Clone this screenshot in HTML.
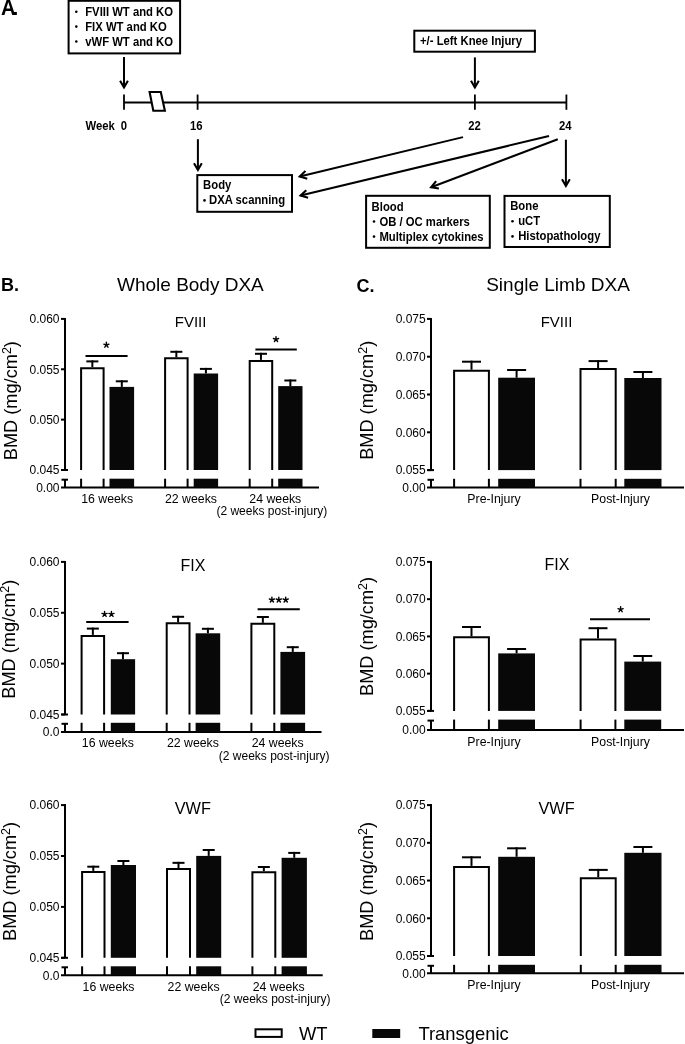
<!DOCTYPE html>
<html><head><meta charset="utf-8"><style>
html,body{margin:0;padding:0;background:#fff;}
svg{display:block;will-change:transform;}
text{font-family:"Liberation Sans", sans-serif;fill:#000;}
</style></head><body>
<svg width="685" height="1044" viewBox="0 0 685 1044">
<rect width="685" height="1044" fill="#fff"/>
<text x="0.9" y="14.7" font-size="22" font-weight="bold" textLength="14.6" lengthAdjust="spacingAndGlyphs">A</text>
<text x="12.40" y="14.70" font-size="21" text-anchor="start" font-weight="bold" >.</text>
<rect x="68.60" y="0.80" width="111.50" height="52.60" fill="#fff" stroke="#000" stroke-width="2"/>
<circle cx="76.30" cy="11.75" r="1.3" fill="#000"/>
<text x="85.20" y="15.75" font-size="12.2" font-weight="bold" text-anchor="start" textLength="87.88" lengthAdjust="spacingAndGlyphs">FVIII WT and KO</text>
<circle cx="76.30" cy="26.60" r="1.3" fill="#000"/>
<text x="85.20" y="30.60" font-size="12.2" font-weight="bold" text-anchor="start" textLength="81.61" lengthAdjust="spacingAndGlyphs">FIX WT and KO</text>
<circle cx="76.30" cy="41.50" r="1.3" fill="#000"/>
<text x="85.20" y="45.50" font-size="12.2" font-weight="bold" text-anchor="start" textLength="87.88" lengthAdjust="spacingAndGlyphs">vWF WT and KO</text>
<line x1="124.00" y1="57.00" x2="124.00" y2="87.50" stroke="#000" stroke-width="2" stroke-linecap="butt"/>
<polyline points="120.10,80.70 124.00,87.50 127.90,80.70" fill="none" stroke="#000" stroke-width="2.1"/>
<line x1="124.00" y1="102.60" x2="566.40" y2="102.60" stroke="#000" stroke-width="2" stroke-linecap="butt"/>
<line x1="124.00" y1="94.50" x2="124.00" y2="109.80" stroke="#000" stroke-width="1.8" stroke-linecap="butt"/>
<line x1="197.60" y1="94.50" x2="197.60" y2="109.80" stroke="#000" stroke-width="1.8" stroke-linecap="butt"/>
<line x1="474.90" y1="94.50" x2="474.90" y2="109.80" stroke="#000" stroke-width="1.8" stroke-linecap="butt"/>
<line x1="566.40" y1="94.50" x2="566.40" y2="109.80" stroke="#000" stroke-width="1.8" stroke-linecap="butt"/>
<polygon points="149.6,92 160.8,92 164.9,110.8 153.3,110.8" fill="#fff" stroke="#000" stroke-width="2.1"/>
<text x="85.60" y="129.70" font-size="12.2" font-weight="bold" text-anchor="start" textLength="29.32" lengthAdjust="spacingAndGlyphs">Week</text>
<text x="123.80" y="129.70" font-size="12.2" font-weight="bold" text-anchor="middle" textLength="6.28" lengthAdjust="spacingAndGlyphs">0</text>
<text x="196.30" y="129.70" font-size="12.2" font-weight="bold" text-anchor="middle" textLength="12.57" lengthAdjust="spacingAndGlyphs">16</text>
<text x="474.50" y="129.70" font-size="12.2" font-weight="bold" text-anchor="middle" textLength="12.57" lengthAdjust="spacingAndGlyphs">22</text>
<text x="565.30" y="129.70" font-size="12.2" font-weight="bold" text-anchor="middle" textLength="12.57" lengthAdjust="spacingAndGlyphs">24</text>
<rect x="414.30" y="30.70" width="120.60" height="21.00" fill="#fff" stroke="#000" stroke-width="2"/>
<text x="420.00" y="44.60" font-size="12.2" font-weight="bold" text-anchor="start" textLength="102.03" lengthAdjust="spacingAndGlyphs">+/- Left Knee Injury</text>
<line x1="474.90" y1="57.40" x2="474.90" y2="87.50" stroke="#000" stroke-width="2" stroke-linecap="butt"/>
<polyline points="471.00,80.70 474.90,87.50 478.80,80.70" fill="none" stroke="#000" stroke-width="2.1"/>
<line x1="197.90" y1="139.20" x2="197.90" y2="170.00" stroke="#000" stroke-width="2" stroke-linecap="butt"/>
<polyline points="194.00,163.20 197.90,170.00 201.80,163.20" fill="none" stroke="#000" stroke-width="2.1"/>
<rect x="197.30" y="175.10" width="94.70" height="36.70" fill="#fff" stroke="#000" stroke-width="2"/>
<text x="203.10" y="189.10" font-size="12.2" font-weight="bold" text-anchor="start" textLength="28.25" lengthAdjust="spacingAndGlyphs">Body</text>
<circle cx="204.50" cy="200.40" r="1.3" fill="#000"/>
<text x="209.00" y="204.40" font-size="12.2" font-weight="bold" text-anchor="start" textLength="76.18" lengthAdjust="spacingAndGlyphs">DXA scanning</text>
<line x1="463.00" y1="137.10" x2="299.77" y2="176.47" stroke="#000" stroke-width="2" stroke-linecap="butt"/>
<polyline points="305.47,171.08 299.77,176.47 307.30,178.66" fill="none" stroke="#000" stroke-width="2.1"/>
<line x1="549.00" y1="136.00" x2="300.57" y2="195.57" stroke="#000" stroke-width="2" stroke-linecap="butt"/>
<polyline points="306.28,190.19 300.57,195.57 308.09,197.77" fill="none" stroke="#000" stroke-width="2.1"/>
<line x1="557.80" y1="139.30" x2="431.14" y2="187.25" stroke="#000" stroke-width="2" stroke-linecap="butt"/>
<polyline points="436.11,181.19 431.14,187.25 438.88,188.49" fill="none" stroke="#000" stroke-width="2.1"/>
<line x1="565.90" y1="139.70" x2="565.90" y2="186.00" stroke="#000" stroke-width="2" stroke-linecap="butt"/>
<polyline points="562.00,179.20 565.90,186.00 569.80,179.20" fill="none" stroke="#000" stroke-width="2.1"/>
<rect x="366.10" y="195.80" width="123.70" height="52.00" fill="#fff" stroke="#000" stroke-width="2"/>
<text x="371.60" y="211.20" font-size="12.2" font-weight="bold" text-anchor="start" textLength="32.01" lengthAdjust="spacingAndGlyphs">Blood</text>
<circle cx="374.00" cy="221.50" r="1.3" fill="#000"/>
<text x="379.40" y="225.50" font-size="12.2" font-weight="bold" text-anchor="start" textLength="90.44" lengthAdjust="spacingAndGlyphs">OB / OC markers</text>
<circle cx="374.00" cy="236.60" r="1.3" fill="#000"/>
<text x="379.40" y="240.60" font-size="12.2" font-weight="bold" text-anchor="start" textLength="104.24" lengthAdjust="spacingAndGlyphs">Multiplex cytokines</text>
<rect x="504.50" y="195.90" width="105.30" height="51.10" fill="#fff" stroke="#000" stroke-width="2"/>
<text x="510.20" y="210.20" font-size="12.2" font-weight="bold" text-anchor="start" textLength="28.25" lengthAdjust="spacingAndGlyphs">Bone</text>
<circle cx="512.50" cy="221.20" r="1.3" fill="#000"/>
<text x="518.20" y="225.20" font-size="12.2" font-weight="bold" text-anchor="start" textLength="21.97" lengthAdjust="spacingAndGlyphs">uCT</text>
<circle cx="512.50" cy="236.40" r="1.3" fill="#000"/>
<text x="518.20" y="240.40" font-size="12.2" font-weight="bold" text-anchor="start" textLength="82.23" lengthAdjust="spacingAndGlyphs">Histopathology</text>
<text x="1.00" y="291.30" font-size="18" text-anchor="start" font-weight="bold" >B.</text>
<text x="117.00" y="291.00" font-size="19" text-anchor="start" font-weight="normal" >Whole Body DXA</text>
<text x="356.50" y="291.50" font-size="18" text-anchor="start" font-weight="bold" >C.</text>
<text x="486.20" y="291.00" font-size="19" text-anchor="start" font-weight="normal" >Single Limb DXA</text>
<line x1="65.00" y1="317.90" x2="65.00" y2="470.00" stroke="#000" stroke-width="2" stroke-linecap="butt"/>
<line x1="61.00" y1="318.90" x2="65.00" y2="318.90" stroke="#000" stroke-width="2" stroke-linecap="butt"/>
<text x="59.50" y="323.20" font-size="12" text-anchor="end" font-weight="normal" >0.060</text>
<line x1="61.00" y1="369.27" x2="65.00" y2="369.27" stroke="#000" stroke-width="2" stroke-linecap="butt"/>
<text x="59.50" y="373.57" font-size="12" text-anchor="end" font-weight="normal" >0.055</text>
<line x1="61.00" y1="419.63" x2="65.00" y2="419.63" stroke="#000" stroke-width="2" stroke-linecap="butt"/>
<text x="59.50" y="423.93" font-size="12" text-anchor="end" font-weight="normal" >0.050</text>
<line x1="61.00" y1="470.00" x2="65.00" y2="470.00" stroke="#000" stroke-width="2" stroke-linecap="butt"/>
<text x="59.50" y="474.30" font-size="12" text-anchor="end" font-weight="normal" >0.045</text>
<line x1="61.50" y1="470.00" x2="68.00" y2="470.00" stroke="#000" stroke-width="2" stroke-linecap="butt"/>
<line x1="61.50" y1="479.70" x2="68.00" y2="479.70" stroke="#000" stroke-width="2" stroke-linecap="butt"/>
<line x1="65.00" y1="479.70" x2="65.00" y2="487.60" stroke="#000" stroke-width="2" stroke-linecap="butt"/>
<line x1="61.00" y1="487.60" x2="319.00" y2="487.60" stroke="#000" stroke-width="2" stroke-linecap="butt"/>
<text x="59.50" y="491.90" font-size="12" text-anchor="end" font-weight="normal" >0.00</text>
<line x1="92.35" y1="360.40" x2="92.35" y2="367.20" stroke="#000" stroke-width="2" stroke-linecap="butt"/>
<line x1="86.35" y1="361.40" x2="98.35" y2="361.40" stroke="#000" stroke-width="2" stroke-linecap="butt"/>
<path d="M81.10,470.00 V368.20 H103.60 V470.00" fill="#fff" stroke="#000" stroke-width="2"/>
<line x1="81.10" y1="478.70" x2="81.10" y2="487.60" stroke="#000" stroke-width="2" stroke-linecap="butt"/>
<line x1="103.60" y1="478.70" x2="103.60" y2="487.60" stroke="#000" stroke-width="2" stroke-linecap="butt"/>
<line x1="121.80" y1="380.30" x2="121.80" y2="386.90" stroke="#000" stroke-width="2" stroke-linecap="butt"/>
<line x1="115.80" y1="381.30" x2="127.80" y2="381.30" stroke="#000" stroke-width="2" stroke-linecap="butt"/>
<rect x="109.50" y="386.90" width="24.60" height="83.10" fill="#080808"/>
<rect x="109.50" y="478.70" width="24.60" height="8.90" fill="#080808"/>
<line x1="176.35" y1="350.80" x2="176.35" y2="357.30" stroke="#000" stroke-width="2" stroke-linecap="butt"/>
<line x1="170.35" y1="351.80" x2="182.35" y2="351.80" stroke="#000" stroke-width="2" stroke-linecap="butt"/>
<path d="M165.10,470.00 V358.30 H187.60 V470.00" fill="#fff" stroke="#000" stroke-width="2"/>
<line x1="165.10" y1="478.70" x2="165.10" y2="487.60" stroke="#000" stroke-width="2" stroke-linecap="butt"/>
<line x1="187.60" y1="478.70" x2="187.60" y2="487.60" stroke="#000" stroke-width="2" stroke-linecap="butt"/>
<line x1="205.90" y1="367.90" x2="205.90" y2="373.50" stroke="#000" stroke-width="2" stroke-linecap="butt"/>
<line x1="199.90" y1="368.90" x2="211.90" y2="368.90" stroke="#000" stroke-width="2" stroke-linecap="butt"/>
<rect x="193.70" y="373.50" width="24.40" height="96.50" fill="#080808"/>
<rect x="193.70" y="478.70" width="24.40" height="8.90" fill="#080808"/>
<line x1="260.95" y1="352.80" x2="260.95" y2="359.90" stroke="#000" stroke-width="2" stroke-linecap="butt"/>
<line x1="254.95" y1="353.80" x2="266.95" y2="353.80" stroke="#000" stroke-width="2" stroke-linecap="butt"/>
<path d="M249.70,470.00 V360.90 H272.20 V470.00" fill="#fff" stroke="#000" stroke-width="2"/>
<line x1="249.70" y1="478.70" x2="249.70" y2="487.60" stroke="#000" stroke-width="2" stroke-linecap="butt"/>
<line x1="272.20" y1="478.70" x2="272.20" y2="487.60" stroke="#000" stroke-width="2" stroke-linecap="butt"/>
<line x1="290.35" y1="379.50" x2="290.35" y2="386.10" stroke="#000" stroke-width="2" stroke-linecap="butt"/>
<line x1="284.35" y1="380.50" x2="296.35" y2="380.50" stroke="#000" stroke-width="2" stroke-linecap="butt"/>
<rect x="278.20" y="386.10" width="24.30" height="83.90" fill="#080808"/>
<rect x="278.20" y="478.70" width="24.30" height="8.90" fill="#080808"/>
<line x1="85.50" y1="356.00" x2="127.60" y2="356.00" stroke="#000" stroke-width="2" stroke-linecap="butt"/>
<path d="M106.40,345.00L106.40,342.30M106.40,345.00L108.97,344.17M106.40,345.00L107.99,347.18M106.40,345.00L104.81,347.18M106.40,345.00L103.83,344.17" stroke="#000" stroke-width="1.4" stroke-linecap="round" fill="none"/>
<line x1="255.40" y1="349.40" x2="296.80" y2="349.40" stroke="#000" stroke-width="2" stroke-linecap="butt"/>
<path d="M276.00,339.30L276.00,336.60M276.00,339.30L278.57,338.47M276.00,339.30L277.59,341.48M276.00,339.30L274.41,341.48M276.00,339.30L273.43,338.47" stroke="#000" stroke-width="1.4" stroke-linecap="round" fill="none"/>
<text x="190.60" y="326.70" font-size="15" text-anchor="middle" font-weight="normal" >FVIII</text>
<text transform="translate(16.90,400.65) rotate(-90)" font-size="18.2" text-anchor="middle">BMD (mg/cm<tspan font-size="12.5" dy="-5.9">2</tspan><tspan dy="5.9">)</tspan></text>
<line x1="65.00" y1="560.90" x2="65.00" y2="714.50" stroke="#000" stroke-width="2" stroke-linecap="butt"/>
<line x1="61.00" y1="561.90" x2="65.00" y2="561.90" stroke="#000" stroke-width="2" stroke-linecap="butt"/>
<text x="59.50" y="566.20" font-size="12" text-anchor="end" font-weight="normal" >0.060</text>
<line x1="61.00" y1="612.77" x2="65.00" y2="612.77" stroke="#000" stroke-width="2" stroke-linecap="butt"/>
<text x="59.50" y="617.07" font-size="12" text-anchor="end" font-weight="normal" >0.055</text>
<line x1="61.00" y1="663.63" x2="65.00" y2="663.63" stroke="#000" stroke-width="2" stroke-linecap="butt"/>
<text x="59.50" y="667.93" font-size="12" text-anchor="end" font-weight="normal" >0.050</text>
<line x1="61.00" y1="714.50" x2="65.00" y2="714.50" stroke="#000" stroke-width="2" stroke-linecap="butt"/>
<text x="59.50" y="718.80" font-size="12" text-anchor="end" font-weight="normal" >0.045</text>
<line x1="61.50" y1="714.50" x2="68.00" y2="714.50" stroke="#000" stroke-width="2" stroke-linecap="butt"/>
<line x1="61.50" y1="723.80" x2="68.00" y2="723.80" stroke="#000" stroke-width="2" stroke-linecap="butt"/>
<line x1="65.00" y1="723.80" x2="65.00" y2="732.00" stroke="#000" stroke-width="2" stroke-linecap="butt"/>
<line x1="61.00" y1="732.00" x2="321.50" y2="732.00" stroke="#000" stroke-width="2" stroke-linecap="butt"/>
<text x="59.50" y="736.30" font-size="12" text-anchor="end" font-weight="normal" >0.0</text>
<line x1="92.85" y1="627.60" x2="92.85" y2="634.90" stroke="#000" stroke-width="2" stroke-linecap="butt"/>
<line x1="86.85" y1="628.60" x2="98.85" y2="628.60" stroke="#000" stroke-width="2" stroke-linecap="butt"/>
<path d="M81.60,714.50 V635.90 H104.10 V714.50" fill="#fff" stroke="#000" stroke-width="2"/>
<line x1="81.60" y1="722.80" x2="81.60" y2="732.00" stroke="#000" stroke-width="2" stroke-linecap="butt"/>
<line x1="104.10" y1="722.80" x2="104.10" y2="732.00" stroke="#000" stroke-width="2" stroke-linecap="butt"/>
<line x1="122.95" y1="652.20" x2="122.95" y2="659.20" stroke="#000" stroke-width="2" stroke-linecap="butt"/>
<line x1="116.95" y1="653.20" x2="128.95" y2="653.20" stroke="#000" stroke-width="2" stroke-linecap="butt"/>
<rect x="110.80" y="659.20" width="24.30" height="55.30" fill="#080808"/>
<rect x="110.80" y="722.80" width="24.30" height="9.20" fill="#080808"/>
<line x1="178.10" y1="615.80" x2="178.10" y2="622.30" stroke="#000" stroke-width="2" stroke-linecap="butt"/>
<line x1="172.10" y1="616.80" x2="184.10" y2="616.80" stroke="#000" stroke-width="2" stroke-linecap="butt"/>
<path d="M166.70,714.50 V623.30 H189.50 V714.50" fill="#fff" stroke="#000" stroke-width="2"/>
<line x1="166.70" y1="722.80" x2="166.70" y2="732.00" stroke="#000" stroke-width="2" stroke-linecap="butt"/>
<line x1="189.50" y1="722.80" x2="189.50" y2="732.00" stroke="#000" stroke-width="2" stroke-linecap="butt"/>
<line x1="207.90" y1="627.80" x2="207.90" y2="633.30" stroke="#000" stroke-width="2" stroke-linecap="butt"/>
<line x1="201.90" y1="628.80" x2="213.90" y2="628.80" stroke="#000" stroke-width="2" stroke-linecap="butt"/>
<rect x="195.60" y="633.30" width="24.60" height="81.20" fill="#080808"/>
<rect x="195.60" y="722.80" width="24.60" height="9.20" fill="#080808"/>
<line x1="262.85" y1="616.00" x2="262.85" y2="622.80" stroke="#000" stroke-width="2" stroke-linecap="butt"/>
<line x1="256.85" y1="617.00" x2="268.85" y2="617.00" stroke="#000" stroke-width="2" stroke-linecap="butt"/>
<path d="M251.40,714.50 V623.80 H274.30 V714.50" fill="#fff" stroke="#000" stroke-width="2"/>
<line x1="251.40" y1="722.80" x2="251.40" y2="732.00" stroke="#000" stroke-width="2" stroke-linecap="butt"/>
<line x1="274.30" y1="722.80" x2="274.30" y2="732.00" stroke="#000" stroke-width="2" stroke-linecap="butt"/>
<line x1="292.75" y1="646.20" x2="292.75" y2="651.90" stroke="#000" stroke-width="2" stroke-linecap="butt"/>
<line x1="286.75" y1="647.20" x2="298.75" y2="647.20" stroke="#000" stroke-width="2" stroke-linecap="butt"/>
<rect x="280.40" y="651.90" width="24.70" height="62.60" fill="#080808"/>
<rect x="280.40" y="722.80" width="24.70" height="9.20" fill="#080808"/>
<line x1="86.20" y1="622.10" x2="128.60" y2="622.10" stroke="#000" stroke-width="2" stroke-linecap="butt"/>
<path d="M104.55,614.20L104.55,611.50M104.55,614.20L107.12,613.37M104.55,614.20L106.14,616.38M104.55,614.20L102.96,616.38M104.55,614.20L101.98,613.37" stroke="#000" stroke-width="1.4" stroke-linecap="round" fill="none"/>
<path d="M111.45,614.20L111.45,611.50M111.45,614.20L114.02,613.37M111.45,614.20L113.04,616.38M111.45,614.20L109.86,616.38M111.45,614.20L108.88,613.37" stroke="#000" stroke-width="1.4" stroke-linecap="round" fill="none"/>
<line x1="257.60" y1="609.20" x2="299.80" y2="609.20" stroke="#000" stroke-width="2" stroke-linecap="butt"/>
<path d="M271.90,599.80L271.90,597.10M271.90,599.80L274.47,598.97M271.90,599.80L273.49,601.98M271.90,599.80L270.31,601.98M271.90,599.80L269.33,598.97" stroke="#000" stroke-width="1.4" stroke-linecap="round" fill="none"/>
<path d="M278.80,599.80L278.80,597.10M278.80,599.80L281.37,598.97M278.80,599.80L280.39,601.98M278.80,599.80L277.21,601.98M278.80,599.80L276.23,598.97" stroke="#000" stroke-width="1.4" stroke-linecap="round" fill="none"/>
<path d="M285.70,599.80L285.70,597.10M285.70,599.80L288.27,598.97M285.70,599.80L287.29,601.98M285.70,599.80L284.11,601.98M285.70,599.80L283.13,598.97" stroke="#000" stroke-width="1.4" stroke-linecap="round" fill="none"/>
<text x="192.90" y="570.80" font-size="16" text-anchor="middle" font-weight="normal" >FIX</text>
<text transform="translate(14.50,639.20) rotate(-90)" font-size="18.2" text-anchor="middle">BMD (mg/cm<tspan font-size="12.5" dy="-5.9">2</tspan><tspan dy="5.9">)</tspan></text>
<line x1="65.00" y1="804.10" x2="65.00" y2="957.80" stroke="#000" stroke-width="2" stroke-linecap="butt"/>
<line x1="61.00" y1="805.10" x2="65.00" y2="805.10" stroke="#000" stroke-width="2" stroke-linecap="butt"/>
<text x="59.50" y="809.40" font-size="12" text-anchor="end" font-weight="normal" >0.060</text>
<line x1="61.00" y1="856.00" x2="65.00" y2="856.00" stroke="#000" stroke-width="2" stroke-linecap="butt"/>
<text x="59.50" y="860.30" font-size="12" text-anchor="end" font-weight="normal" >0.055</text>
<line x1="61.00" y1="906.90" x2="65.00" y2="906.90" stroke="#000" stroke-width="2" stroke-linecap="butt"/>
<text x="59.50" y="911.20" font-size="12" text-anchor="end" font-weight="normal" >0.050</text>
<line x1="61.00" y1="957.80" x2="65.00" y2="957.80" stroke="#000" stroke-width="2" stroke-linecap="butt"/>
<text x="59.50" y="962.10" font-size="12" text-anchor="end" font-weight="normal" >0.045</text>
<line x1="61.50" y1="957.80" x2="68.00" y2="957.80" stroke="#000" stroke-width="2" stroke-linecap="butt"/>
<line x1="61.50" y1="967.30" x2="68.00" y2="967.30" stroke="#000" stroke-width="2" stroke-linecap="butt"/>
<line x1="65.00" y1="967.30" x2="65.00" y2="975.20" stroke="#000" stroke-width="2" stroke-linecap="butt"/>
<line x1="61.00" y1="975.20" x2="322.70" y2="975.20" stroke="#000" stroke-width="2" stroke-linecap="butt"/>
<text x="59.50" y="979.50" font-size="12" text-anchor="end" font-weight="normal" >0.0</text>
<line x1="93.30" y1="865.70" x2="93.30" y2="870.90" stroke="#000" stroke-width="2" stroke-linecap="butt"/>
<line x1="87.30" y1="866.70" x2="99.30" y2="866.70" stroke="#000" stroke-width="2" stroke-linecap="butt"/>
<path d="M82.10,957.80 V871.90 H104.50 V957.80" fill="#fff" stroke="#000" stroke-width="2"/>
<line x1="82.10" y1="966.30" x2="82.10" y2="975.20" stroke="#000" stroke-width="2" stroke-linecap="butt"/>
<line x1="104.50" y1="966.30" x2="104.50" y2="975.20" stroke="#000" stroke-width="2" stroke-linecap="butt"/>
<line x1="123.40" y1="860.00" x2="123.40" y2="865.00" stroke="#000" stroke-width="2" stroke-linecap="butt"/>
<line x1="117.40" y1="861.00" x2="129.40" y2="861.00" stroke="#000" stroke-width="2" stroke-linecap="butt"/>
<rect x="110.80" y="865.00" width="25.20" height="92.80" fill="#080808"/>
<rect x="110.80" y="966.30" width="25.20" height="8.90" fill="#080808"/>
<line x1="178.50" y1="861.85" x2="178.50" y2="868.10" stroke="#000" stroke-width="2" stroke-linecap="butt"/>
<line x1="172.50" y1="862.85" x2="184.50" y2="862.85" stroke="#000" stroke-width="2" stroke-linecap="butt"/>
<path d="M167.00,957.80 V869.10 H190.00 V957.80" fill="#fff" stroke="#000" stroke-width="2"/>
<line x1="167.00" y1="966.30" x2="167.00" y2="975.20" stroke="#000" stroke-width="2" stroke-linecap="butt"/>
<line x1="190.00" y1="966.30" x2="190.00" y2="975.20" stroke="#000" stroke-width="2" stroke-linecap="butt"/>
<line x1="208.70" y1="849.00" x2="208.70" y2="855.90" stroke="#000" stroke-width="2" stroke-linecap="butt"/>
<line x1="202.70" y1="850.00" x2="214.70" y2="850.00" stroke="#000" stroke-width="2" stroke-linecap="butt"/>
<rect x="196.20" y="855.90" width="25.00" height="101.90" fill="#080808"/>
<rect x="196.20" y="966.30" width="25.00" height="8.90" fill="#080808"/>
<line x1="263.85" y1="866.00" x2="263.85" y2="871.20" stroke="#000" stroke-width="2" stroke-linecap="butt"/>
<line x1="257.85" y1="867.00" x2="269.85" y2="867.00" stroke="#000" stroke-width="2" stroke-linecap="butt"/>
<path d="M252.40,957.80 V872.20 H275.30 V957.80" fill="#fff" stroke="#000" stroke-width="2"/>
<line x1="252.40" y1="966.30" x2="252.40" y2="975.20" stroke="#000" stroke-width="2" stroke-linecap="butt"/>
<line x1="275.30" y1="966.30" x2="275.30" y2="975.20" stroke="#000" stroke-width="2" stroke-linecap="butt"/>
<line x1="294.25" y1="851.90" x2="294.25" y2="857.80" stroke="#000" stroke-width="2" stroke-linecap="butt"/>
<line x1="288.25" y1="852.90" x2="300.25" y2="852.90" stroke="#000" stroke-width="2" stroke-linecap="butt"/>
<rect x="281.60" y="857.80" width="25.30" height="100.00" fill="#080808"/>
<rect x="281.60" y="966.30" width="25.30" height="8.90" fill="#080808"/>
<text x="192.75" y="813.70" font-size="16.3" text-anchor="middle" font-weight="normal" >VWF</text>
<text transform="translate(15.60,881.45) rotate(-90)" font-size="18.2" text-anchor="middle">BMD (mg/cm<tspan font-size="12.5" dy="-5.9">2</tspan><tspan dy="5.9">)</tspan></text>
<line x1="431.00" y1="317.90" x2="431.00" y2="470.10" stroke="#000" stroke-width="2" stroke-linecap="butt"/>
<line x1="427.00" y1="318.90" x2="431.00" y2="318.90" stroke="#000" stroke-width="2" stroke-linecap="butt"/>
<text x="425.70" y="323.20" font-size="12" text-anchor="end" font-weight="normal" >0.075</text>
<line x1="427.00" y1="356.70" x2="431.00" y2="356.70" stroke="#000" stroke-width="2" stroke-linecap="butt"/>
<text x="425.70" y="361.00" font-size="12" text-anchor="end" font-weight="normal" >0.070</text>
<line x1="427.00" y1="394.50" x2="431.00" y2="394.50" stroke="#000" stroke-width="2" stroke-linecap="butt"/>
<text x="425.70" y="398.80" font-size="12" text-anchor="end" font-weight="normal" >0.065</text>
<line x1="427.00" y1="432.30" x2="431.00" y2="432.30" stroke="#000" stroke-width="2" stroke-linecap="butt"/>
<text x="425.70" y="436.60" font-size="12" text-anchor="end" font-weight="normal" >0.060</text>
<line x1="427.00" y1="470.10" x2="431.00" y2="470.10" stroke="#000" stroke-width="2" stroke-linecap="butt"/>
<text x="425.70" y="474.40" font-size="12" text-anchor="end" font-weight="normal" >0.055</text>
<line x1="427.50" y1="470.10" x2="434.00" y2="470.10" stroke="#000" stroke-width="2" stroke-linecap="butt"/>
<line x1="427.50" y1="479.80" x2="434.00" y2="479.80" stroke="#000" stroke-width="2" stroke-linecap="butt"/>
<line x1="431.00" y1="479.80" x2="431.00" y2="487.40" stroke="#000" stroke-width="2" stroke-linecap="butt"/>
<line x1="427.00" y1="487.40" x2="684.00" y2="487.40" stroke="#000" stroke-width="2" stroke-linecap="butt"/>
<text x="425.70" y="491.70" font-size="12" text-anchor="end" font-weight="normal" >0.00</text>
<line x1="471.50" y1="360.70" x2="471.50" y2="369.80" stroke="#000" stroke-width="2" stroke-linecap="butt"/>
<line x1="462.00" y1="361.70" x2="481.00" y2="361.70" stroke="#000" stroke-width="2" stroke-linecap="butt"/>
<path d="M454.10,470.10 V370.80 H488.90 V470.10" fill="#fff" stroke="#000" stroke-width="2"/>
<line x1="454.10" y1="478.80" x2="454.10" y2="487.40" stroke="#000" stroke-width="2" stroke-linecap="butt"/>
<line x1="488.90" y1="478.80" x2="488.90" y2="487.40" stroke="#000" stroke-width="2" stroke-linecap="butt"/>
<line x1="516.60" y1="369.00" x2="516.60" y2="377.70" stroke="#000" stroke-width="2" stroke-linecap="butt"/>
<line x1="507.10" y1="370.00" x2="526.10" y2="370.00" stroke="#000" stroke-width="2" stroke-linecap="butt"/>
<rect x="498.20" y="377.70" width="36.80" height="92.40" fill="#080808"/>
<rect x="498.20" y="478.80" width="36.80" height="8.60" fill="#080808"/>
<line x1="598.10" y1="360.10" x2="598.10" y2="368.00" stroke="#000" stroke-width="2" stroke-linecap="butt"/>
<line x1="588.60" y1="361.10" x2="607.60" y2="361.10" stroke="#000" stroke-width="2" stroke-linecap="butt"/>
<path d="M580.50,470.10 V369.00 H615.70 V470.10" fill="#fff" stroke="#000" stroke-width="2"/>
<line x1="580.50" y1="478.80" x2="580.50" y2="487.40" stroke="#000" stroke-width="2" stroke-linecap="butt"/>
<line x1="615.70" y1="478.80" x2="615.70" y2="487.40" stroke="#000" stroke-width="2" stroke-linecap="butt"/>
<line x1="642.90" y1="371.00" x2="642.90" y2="378.00" stroke="#000" stroke-width="2" stroke-linecap="butt"/>
<line x1="633.40" y1="372.00" x2="652.40" y2="372.00" stroke="#000" stroke-width="2" stroke-linecap="butt"/>
<rect x="624.30" y="378.00" width="37.20" height="92.10" fill="#080808"/>
<rect x="624.30" y="478.80" width="37.20" height="8.60" fill="#080808"/>
<text x="556.50" y="326.70" font-size="15" text-anchor="middle" font-weight="normal" >FVIII</text>
<text transform="translate(373.10,400.30) rotate(-90)" font-size="18.2" text-anchor="middle">BMD (mg/cm<tspan font-size="12.5" dy="-5.9">2</tspan><tspan dy="5.9">)</tspan></text>
<line x1="431.00" y1="560.90" x2="431.00" y2="710.90" stroke="#000" stroke-width="2" stroke-linecap="butt"/>
<line x1="427.00" y1="561.90" x2="431.00" y2="561.90" stroke="#000" stroke-width="2" stroke-linecap="butt"/>
<text x="425.70" y="566.20" font-size="12" text-anchor="end" font-weight="normal" >0.075</text>
<line x1="427.00" y1="599.15" x2="431.00" y2="599.15" stroke="#000" stroke-width="2" stroke-linecap="butt"/>
<text x="425.70" y="603.45" font-size="12" text-anchor="end" font-weight="normal" >0.070</text>
<line x1="427.00" y1="636.40" x2="431.00" y2="636.40" stroke="#000" stroke-width="2" stroke-linecap="butt"/>
<text x="425.70" y="640.70" font-size="12" text-anchor="end" font-weight="normal" >0.065</text>
<line x1="427.00" y1="673.65" x2="431.00" y2="673.65" stroke="#000" stroke-width="2" stroke-linecap="butt"/>
<text x="425.70" y="677.95" font-size="12" text-anchor="end" font-weight="normal" >0.060</text>
<line x1="427.00" y1="710.90" x2="431.00" y2="710.90" stroke="#000" stroke-width="2" stroke-linecap="butt"/>
<text x="425.70" y="715.20" font-size="12" text-anchor="end" font-weight="normal" >0.055</text>
<line x1="427.50" y1="710.90" x2="434.00" y2="710.90" stroke="#000" stroke-width="2" stroke-linecap="butt"/>
<line x1="427.50" y1="720.60" x2="434.00" y2="720.60" stroke="#000" stroke-width="2" stroke-linecap="butt"/>
<line x1="431.00" y1="720.60" x2="431.00" y2="730.00" stroke="#000" stroke-width="2" stroke-linecap="butt"/>
<line x1="427.00" y1="730.00" x2="684.00" y2="730.00" stroke="#000" stroke-width="2" stroke-linecap="butt"/>
<text x="425.70" y="734.30" font-size="12" text-anchor="end" font-weight="normal" >0.00</text>
<line x1="471.50" y1="626.00" x2="471.50" y2="636.30" stroke="#000" stroke-width="2" stroke-linecap="butt"/>
<line x1="462.00" y1="627.00" x2="481.00" y2="627.00" stroke="#000" stroke-width="2" stroke-linecap="butt"/>
<path d="M454.10,710.90 V637.30 H488.90 V710.90" fill="#fff" stroke="#000" stroke-width="2"/>
<line x1="454.10" y1="719.60" x2="454.10" y2="730.00" stroke="#000" stroke-width="2" stroke-linecap="butt"/>
<line x1="488.90" y1="719.60" x2="488.90" y2="730.00" stroke="#000" stroke-width="2" stroke-linecap="butt"/>
<line x1="516.60" y1="648.00" x2="516.60" y2="653.40" stroke="#000" stroke-width="2" stroke-linecap="butt"/>
<line x1="507.10" y1="649.00" x2="526.10" y2="649.00" stroke="#000" stroke-width="2" stroke-linecap="butt"/>
<rect x="498.20" y="653.40" width="36.80" height="57.50" fill="#080808"/>
<rect x="498.20" y="719.60" width="36.80" height="10.40" fill="#080808"/>
<line x1="598.00" y1="627.20" x2="598.00" y2="638.40" stroke="#000" stroke-width="2" stroke-linecap="butt"/>
<line x1="588.50" y1="628.20" x2="607.50" y2="628.20" stroke="#000" stroke-width="2" stroke-linecap="butt"/>
<path d="M580.60,710.90 V639.40 H615.40 V710.90" fill="#fff" stroke="#000" stroke-width="2"/>
<line x1="580.60" y1="719.60" x2="580.60" y2="730.00" stroke="#000" stroke-width="2" stroke-linecap="butt"/>
<line x1="615.40" y1="719.60" x2="615.40" y2="730.00" stroke="#000" stroke-width="2" stroke-linecap="butt"/>
<line x1="642.75" y1="655.00" x2="642.75" y2="661.60" stroke="#000" stroke-width="2" stroke-linecap="butt"/>
<line x1="633.25" y1="656.00" x2="652.25" y2="656.00" stroke="#000" stroke-width="2" stroke-linecap="butt"/>
<rect x="624.30" y="661.60" width="36.90" height="49.30" fill="#080808"/>
<rect x="624.30" y="719.60" width="36.90" height="10.40" fill="#080808"/>
<line x1="590.00" y1="619.30" x2="650.00" y2="619.30" stroke="#000" stroke-width="2" stroke-linecap="butt"/>
<path d="M620.60,609.50L620.60,606.80M620.60,609.50L623.17,608.67M620.60,609.50L622.19,611.68M620.60,609.50L619.01,611.68M620.60,609.50L618.03,608.67" stroke="#000" stroke-width="1.4" stroke-linecap="round" fill="none"/>
<text x="556.90" y="569.80" font-size="16" text-anchor="middle" font-weight="normal" >FIX</text>
<text transform="translate(373.10,636.45) rotate(-90)" font-size="18.2" text-anchor="middle">BMD (mg/cm<tspan font-size="12.5" dy="-5.9">2</tspan><tspan dy="5.9">)</tspan></text>
<line x1="431.00" y1="804.10" x2="431.00" y2="956.00" stroke="#000" stroke-width="2" stroke-linecap="butt"/>
<line x1="427.00" y1="805.10" x2="431.00" y2="805.10" stroke="#000" stroke-width="2" stroke-linecap="butt"/>
<text x="425.70" y="809.40" font-size="12" text-anchor="end" font-weight="normal" >0.075</text>
<line x1="427.00" y1="842.83" x2="431.00" y2="842.83" stroke="#000" stroke-width="2" stroke-linecap="butt"/>
<text x="425.70" y="847.12" font-size="12" text-anchor="end" font-weight="normal" >0.070</text>
<line x1="427.00" y1="880.55" x2="431.00" y2="880.55" stroke="#000" stroke-width="2" stroke-linecap="butt"/>
<text x="425.70" y="884.85" font-size="12" text-anchor="end" font-weight="normal" >0.065</text>
<line x1="427.00" y1="918.27" x2="431.00" y2="918.27" stroke="#000" stroke-width="2" stroke-linecap="butt"/>
<text x="425.70" y="922.57" font-size="12" text-anchor="end" font-weight="normal" >0.060</text>
<line x1="427.00" y1="956.00" x2="431.00" y2="956.00" stroke="#000" stroke-width="2" stroke-linecap="butt"/>
<text x="425.70" y="960.30" font-size="12" text-anchor="end" font-weight="normal" >0.055</text>
<line x1="427.50" y1="956.00" x2="434.00" y2="956.00" stroke="#000" stroke-width="2" stroke-linecap="butt"/>
<line x1="427.50" y1="965.80" x2="434.00" y2="965.80" stroke="#000" stroke-width="2" stroke-linecap="butt"/>
<line x1="431.00" y1="965.80" x2="431.00" y2="973.30" stroke="#000" stroke-width="2" stroke-linecap="butt"/>
<line x1="427.00" y1="973.30" x2="684.00" y2="973.30" stroke="#000" stroke-width="2" stroke-linecap="butt"/>
<text x="425.70" y="977.60" font-size="12" text-anchor="end" font-weight="normal" >0.00</text>
<line x1="471.50" y1="856.30" x2="471.50" y2="865.90" stroke="#000" stroke-width="2" stroke-linecap="butt"/>
<line x1="462.00" y1="857.30" x2="481.00" y2="857.30" stroke="#000" stroke-width="2" stroke-linecap="butt"/>
<path d="M454.10,956.00 V866.90 H488.90 V956.00" fill="#fff" stroke="#000" stroke-width="2"/>
<line x1="454.10" y1="964.80" x2="454.10" y2="973.30" stroke="#000" stroke-width="2" stroke-linecap="butt"/>
<line x1="488.90" y1="964.80" x2="488.90" y2="973.30" stroke="#000" stroke-width="2" stroke-linecap="butt"/>
<line x1="516.60" y1="847.30" x2="516.60" y2="856.80" stroke="#000" stroke-width="2" stroke-linecap="butt"/>
<line x1="507.10" y1="848.30" x2="526.10" y2="848.30" stroke="#000" stroke-width="2" stroke-linecap="butt"/>
<rect x="498.20" y="856.80" width="36.80" height="99.20" fill="#080808"/>
<rect x="498.20" y="964.80" width="36.80" height="8.50" fill="#080808"/>
<line x1="598.25" y1="868.90" x2="598.25" y2="877.20" stroke="#000" stroke-width="2" stroke-linecap="butt"/>
<line x1="588.75" y1="869.90" x2="607.75" y2="869.90" stroke="#000" stroke-width="2" stroke-linecap="butt"/>
<path d="M580.80,956.00 V878.20 H615.70 V956.00" fill="#fff" stroke="#000" stroke-width="2"/>
<line x1="580.80" y1="964.80" x2="580.80" y2="973.30" stroke="#000" stroke-width="2" stroke-linecap="butt"/>
<line x1="615.70" y1="964.80" x2="615.70" y2="973.30" stroke="#000" stroke-width="2" stroke-linecap="butt"/>
<line x1="642.90" y1="846.00" x2="642.90" y2="852.80" stroke="#000" stroke-width="2" stroke-linecap="butt"/>
<line x1="633.40" y1="847.00" x2="652.40" y2="847.00" stroke="#000" stroke-width="2" stroke-linecap="butt"/>
<rect x="624.30" y="852.80" width="37.20" height="103.20" fill="#080808"/>
<rect x="624.30" y="964.80" width="37.20" height="8.50" fill="#080808"/>
<text x="556.50" y="813.50" font-size="16.3" text-anchor="middle" font-weight="normal" >VWF</text>
<text transform="translate(373.10,881.45) rotate(-90)" font-size="18.2" text-anchor="middle">BMD (mg/cm<tspan font-size="12.5" dy="-5.9">2</tspan><tspan dy="5.9">)</tspan></text>
<text x="107.15" y="503.00" font-size="12.3" text-anchor="middle" font-weight="normal" >16 weeks</text>
<text x="191.00" y="503.00" font-size="12.3" text-anchor="middle" font-weight="normal" >22 weeks</text>
<text x="275.30" y="503.00" font-size="12.3" text-anchor="middle" font-weight="normal" >24 weeks</text>
<text x="271.80" y="515.40" font-size="12" text-anchor="middle" font-weight="normal" >(2 weeks post-injury)</text>
<text x="107.85" y="747.40" font-size="12.3" text-anchor="middle" font-weight="normal" >16 weeks</text>
<text x="192.95" y="747.40" font-size="12.3" text-anchor="middle" font-weight="normal" >22 weeks</text>
<text x="277.70" y="747.40" font-size="12.3" text-anchor="middle" font-weight="normal" >24 weeks</text>
<text x="274.20" y="759.80" font-size="12" text-anchor="middle" font-weight="normal" >(2 weeks post-injury)</text>
<text x="108.55" y="990.60" font-size="12.3" text-anchor="middle" font-weight="normal" >16 weeks</text>
<text x="193.60" y="990.60" font-size="12.3" text-anchor="middle" font-weight="normal" >22 weeks</text>
<text x="278.70" y="990.60" font-size="12.3" text-anchor="middle" font-weight="normal" >24 weeks</text>
<text x="275.20" y="1003.00" font-size="12" text-anchor="middle" font-weight="normal" >(2 weeks post-injury)</text>
<text x="494.00" y="503.00" font-size="12.3" text-anchor="middle" font-weight="normal" >Pre-Injury</text>
<text x="620.50" y="503.00" font-size="12.3" text-anchor="middle" font-weight="normal" >Post-Injury</text>
<text x="494.00" y="745.60" font-size="12.3" text-anchor="middle" font-weight="normal" >Pre-Injury</text>
<text x="620.50" y="745.60" font-size="12.3" text-anchor="middle" font-weight="normal" >Post-Injury</text>
<text x="494.00" y="988.90" font-size="12.3" text-anchor="middle" font-weight="normal" >Pre-Injury</text>
<text x="620.50" y="988.90" font-size="12.3" text-anchor="middle" font-weight="normal" >Post-Injury</text>
<rect x="255.5" y="1029.3" width="26.2" height="7.6" fill="#fff" stroke="#000" stroke-width="2"/>
<text x="299.00" y="1039.50" font-size="18.4" text-anchor="start" font-weight="normal" >WT</text>
<rect x="372.30" y="1029.00" width="27.90" height="9.00" fill="#080808"/>
<text x="418.40" y="1039.50" font-size="18.4" text-anchor="start" font-weight="normal" >Transgenic</text>
</svg></body></html>
